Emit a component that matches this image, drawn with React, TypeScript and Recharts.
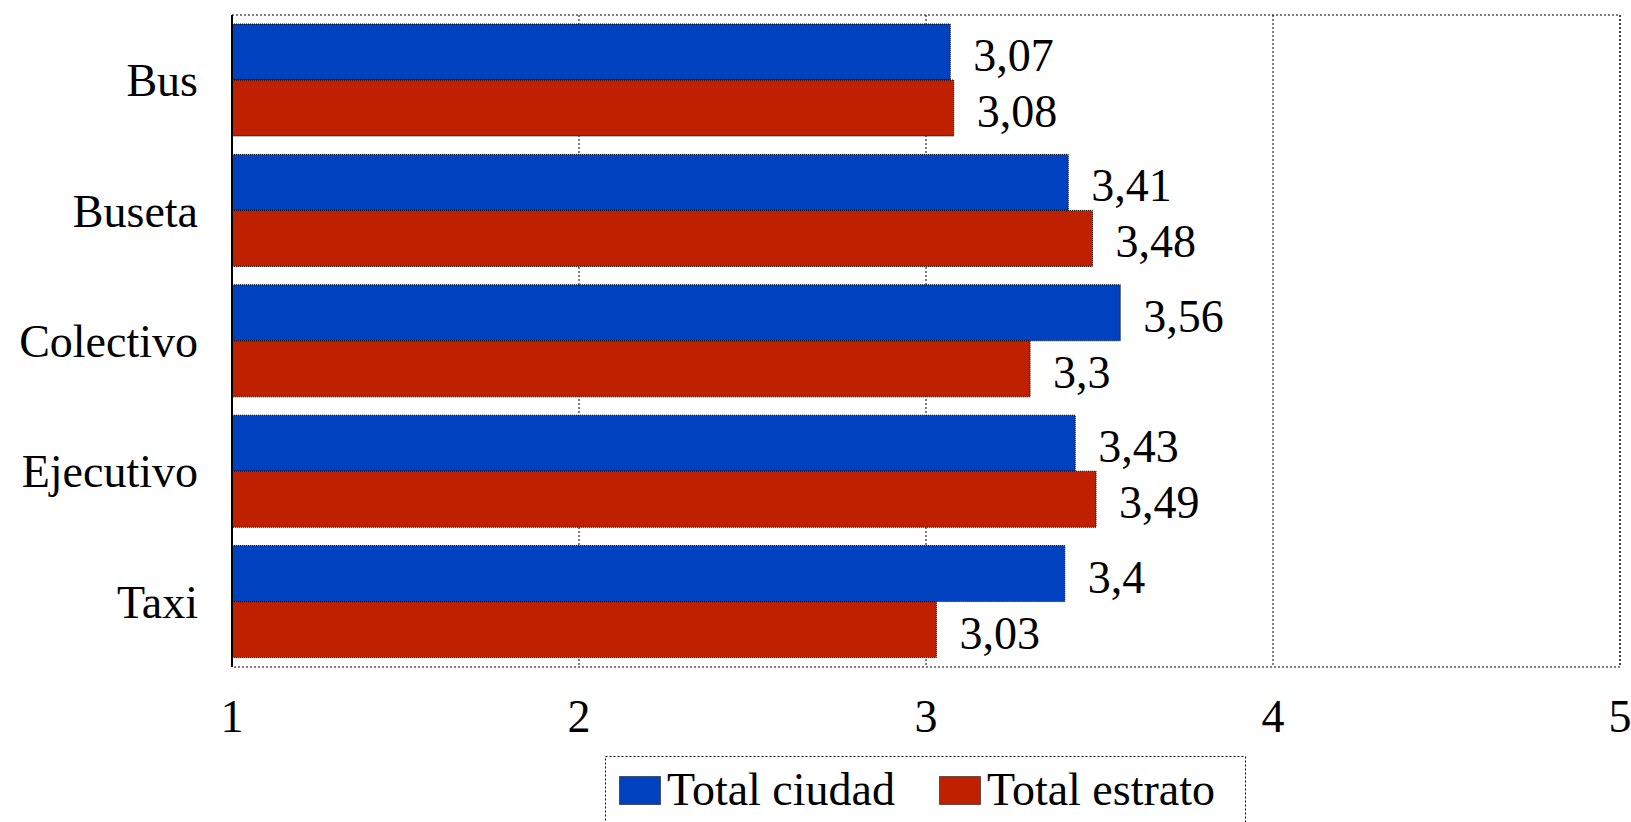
import { BarChart, Bar, XAxis, YAxis, CartesianGrid, Legend, LabelList, ReferenceArea } from "recharts";

const categories = ["Bus", "Buseta", "Colectivo", "Ejecutivo", "Taxi"];
const totalCiudad = [3.07, 3.41, 3.56, 3.43, 3.4];
const totalEstrato = [3.08, 3.48, 3.3, 3.49, 3.03];
const xTicks = [1, 2, 3, 4, 5];

const BLUE = "#0041BF";
const RED = "#BE2000";
const FONT = "Liberation Serif, Tinos, DejaVu Serif, Noto Serif, Times New Roman, serif";

const data = categories.map((name, i) => ({
  name,
  ciudad: totalCiudad[i],
  estrato: totalEstrato[i],
}));

const fmt = (v: number) => String(v).replace(".", ",");

const XTick = ({ x, y, payload }: any) => (
  <text x={x} y={y + 65} textAnchor="middle" style={{ fontSize: 46, fontFamily: FONT }} fill="#000">
    {payload.value}
  </text>
);

const YTick = ({ x, y, payload }: any) => (
  <text x={x - 34} y={y + 16} textAnchor="end" style={{ fontSize: 46, fontFamily: FONT }} fill="#000">
    {payload.value}
  </text>
);

const ValueLabel = ({ x, y, width, height, value }: any) => (
  <text
    x={x + width + 23}
    y={y + height / 2 + 19}
    textAnchor="start"
    style={{ fontSize: 46, fontFamily: FONT }}
    fill="#000"
  >
    {fmt(value)}
  </text>
);

const LegendBox = () => (
  <svg width={642} height={70} style={{ display: "block" }}>
    <rect x={0.5} y={0.5} width={640} height={80} fill="#fff" stroke="#000" strokeDasharray="2 2" />
    <rect x={14.5} y={20.5} width={41} height={28} fill={BLUE} stroke="#000" strokeDasharray="1 1" />
    <text x={62} y={49} style={{ fontSize: 46, fontFamily: FONT }} fill="#000">
      Total ciudad
    </text>
    <rect x={334.5} y={20.5} width={41} height={28} fill={RED} stroke="#000" strokeDasharray="1 1" />
    <text x={382} y={49} style={{ fontSize: 46, fontFamily: FONT }} fill="#000">
      Total estrato
    </text>
  </svg>
);

export default function App() {
  return (
    <div style={{ position: "absolute", left: 0, top: 0, background: "#fff", fontFamily: FONT }}>
      <BarChart
        width={1631}
        height={822}
        data={data}
        layout="vertical"
        margin={{ top: 15, right: 11, left: 0, bottom: 0 }}
        barCategoryGap={9}
        barGap={0}
      >
        <CartesianGrid horizontal={false} stroke="#000" strokeDasharray="2 2" />
        <XAxis
          type="number"
          domain={[1, 5]}
          ticks={xTicks}
          allowDataOverflow
          axisLine={false}
          tickLine={false}
          tickSize={0}
          tickMargin={0}
          height={155}
          tick={<XTick />}
        />
        <YAxis
          type="category"
          dataKey="name"
          width={232}
          axisLine={{ stroke: "#000", strokeWidth: 2 }}
          tickLine={false}
          tickSize={0}
          tickMargin={0}
          tick={<YTick />}
        />
        <ReferenceArea x1={1} x2={5} fill="none" stroke="#000" strokeDasharray="2 2" />
        <Legend
          layout="horizontal"
          verticalAlign="middle"
          align="center"
          wrapperStyle={{ position: "absolute", left: 605, top: 756, width: 642, height: 70 }}
          content={() => <LegendBox />}
        />
        <Bar dataKey="ciudad" name="Total ciudad" fill={BLUE} stroke="#000" strokeDasharray="1 1" isAnimationActive={false}>
          <LabelList dataKey="ciudad" content={<ValueLabel />} />
        </Bar>
        <Bar dataKey="estrato" name="Total estrato" fill={RED} stroke="#000" strokeDasharray="1 1" isAnimationActive={false}>
          <LabelList dataKey="estrato" content={<ValueLabel />} />
        </Bar>
      </BarChart>
    </div>
  );
}
